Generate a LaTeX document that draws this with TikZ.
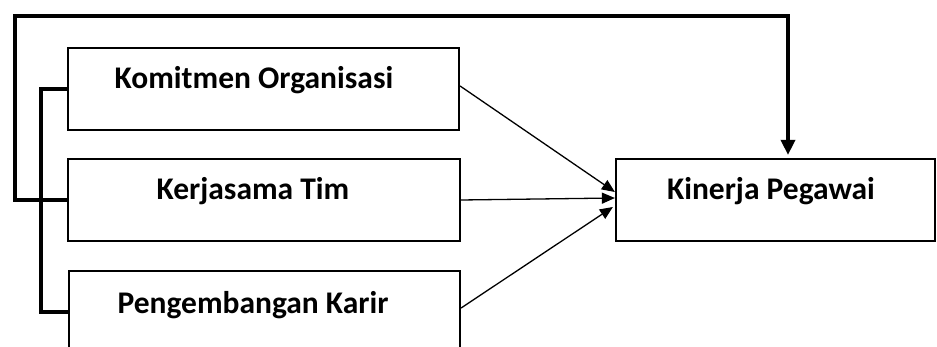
\documentclass[tikz,border=0pt]{standalone}
\usepackage{fontspec}
\setmainfont{Carlito}
\usetikzlibrary{arrows.meta}
\begin{document}
\begin{tikzpicture}[x=1pt,y=-1pt,
  box/.style={draw, line width=2.2pt, inner sep=0pt, minimum height=82pt},
  lbl/.style={anchor=base, inner sep=0pt, font=\fontsize{31.5}{36}\selectfont\bfseries},
  thickline/.style={line width=3.5pt},
  thinarrow/.style={line width=1.3pt, -{Triangle[length=13pt,width=11pt]}},
  fbarrow/.style={line width=3.5pt, -{Triangle[length=15pt,width=14pt]}}]
\useasboundingbox (0,0) rectangle (937,347);
\fill[white] (0,0) rectangle (937,347);
% boxes
\node[box, minimum width=391pt] (k1) at (263.5,89) {};
\node[box, minimum width=392pt] (k2) at (264,200) {};
\node[box, minimum width=391pt] (k3) at (264.5,312) {};
\node[box, minimum width=319pt] (kp) at (775.5,200) {};
% labels
\node[lbl] (t1) at (254,89) {Komitmen Organisasi};
\node[lbl] (t2) at (253,200) {Kerjasama Tim};
\node[lbl] (t3) at (253,313) {Pengembangan Karir};
\node[lbl] (t4) at (771,200) {Kinerja Pegawai};
% bracket on the left
\coordinate (bt) at (41,89);
\draw[thickline] (k1.west) -- (bt) |- (k3.west);
% feedback line over the top
\coordinate (fbL) at (15,16);
\draw[fbarrow, shorten >=3pt] (k2.west) -| (fbL) -| ([xshift=12.5pt]kp.north);
% arrows to Kinerja Pegawai
\draw[thinarrow] ([yshift=3pt]k1.east) -- ([yshift=8pt]kp.west);
\draw[thinarrow] (k2.east) -- ([yshift=2pt]kp.west);
\draw[thinarrow] ([yshift=4pt]k3.east) -- ([yshift=-7pt,xshift=-2pt]kp.west);
\end{tikzpicture}
\end{document}
